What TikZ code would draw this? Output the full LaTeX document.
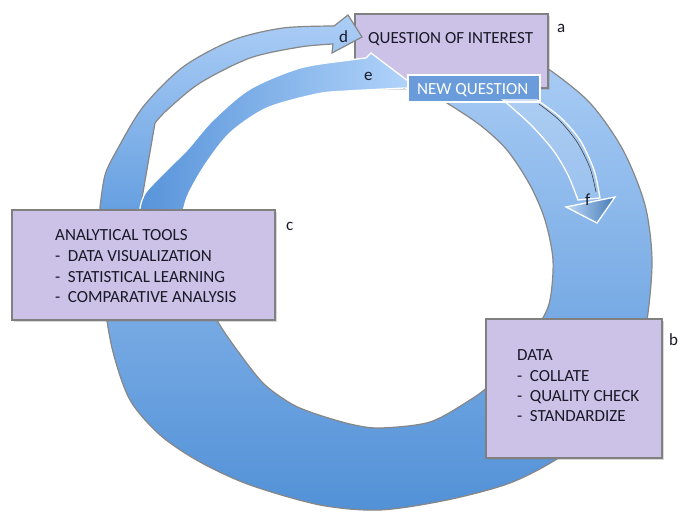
\documentclass[tikz,border=0pt]{standalone}
\usepackage{fontspec}
\setmainfont{Carlito}
\usetikzlibrary{shadows}
\definecolor{boxfill}{RGB}{204,193,230}
\definecolor{boxline}{RGB}{128,128,128}
\definecolor{ringtop}{RGB}{172,206,246}
\definecolor{ringbot}{RGB}{82,145,215}
\definecolor{dtop}{RGB}{172,206,246}
\definecolor{dbot}{RGB}{100,158,224}
\definecolor{eleft}{RGB}{88,148,218}
\definecolor{eright}{RGB}{178,212,250}
\definecolor{nqfill}{RGB}{106,155,218}
\definecolor{edgegray}{RGB}{135,135,135}
\definecolor{txt}{RGB}{25,25,40}
\begin{document}
\begin{tikzpicture}[x=1pt,y=-1pt,
  lbl/.style={font=\fontsize{17}{20}\selectfont, text=txt, inner sep=0pt, anchor=base west},
  panel/.style={draw=boxline, line width=1.8pt, fill=boxfill, inner sep=0pt,
    drop shadow={shadow xshift=1.5pt, shadow yshift=-1.5pt, opacity=0.3}},
  ringedge/.style={draw=edgegray, line width=1.2pt}]
\useasboundingbox (0,0) rectangle (686,512);
\fill[white] (0,0) rectangle (686,512);

% main circular band
\path[ringedge, top color=ringtop, bottom color=ringbot]
  plot[smooth] coordinates {(500,40) (547,68) (590,103) (623,150) (645,205) (652,260)
     (647,320) (635,370) (605,420) (560,457) (510,483) (447,500) (380,510) (320,505)
     (250,485) (200,462) (160,435) (130,400) (113,352) (104,300) (100,250) (100,216)}
  -- plot[smooth] coordinates {(182,216) (190,255) (203,292) (218,322) (237,350) (263,383)
     (290,403) (313,413) (350,424) (380,428) (430,422) (470,400) (490,385) (515,360)
     (540,323) (550,300) (553,260) (545,220) (530,185) (507,150) (480,125) (447,103) (425,90)}
  -- cycle;

% box a
\node[panel, minimum width=193pt, minimum height=74pt] (qa) at (451.5,51) {};

% arrow d
\path[ringedge, top color=dtop, bottom color=dbot]
  (100,216) -- plot[smooth] coordinates {(100,207) (105,175) (117,150) (143,107) (183,67)
     (233,40) (283,28) (334,26)}
  -- (348,15) -- (362,37) -- (332,53) -- (333,44)
  -- plot[smooth] coordinates {(333,44) (300,47) (250,58) (200,83) (167,110) (155,123)}
  -- (140,210) -- (140,216) -- cycle;

% arrow e
\path[draw=white, line width=1.3pt, left color=eleft, right color=eright]
  (140,216) -- plot[smooth] coordinates {(140,208) (146,192) (170,167) (188,149) (213,120)
     (250,89) (300,68) (350,60) (366,58)}
  -- (371,53) -- (412,84) -- (410,89)
  -- plot[smooth] coordinates {(405,88) (347,91) (317,94) (267,108) (230,133) (205,165)
     (188,195) (182,216)}
  -- cycle;

% boxes c and b
\node[panel, minimum width=263pt, minimum height=110pt] (tools) at (143.5,265) {};
\node[panel, minimum width=176pt, minimum height=139pt] (data) at (574,388.5) {};

% new question box
\node[draw=white, line width=1.6pt, fill=nqfill, inner sep=0pt,
  minimum width=132pt, minimum height=27pt] (nq) at (474,88.5) {};

% arrow f
\path[draw=white, line width=1.3pt, fill=white, fill opacity=0.12]
  plot[smooth] coordinates {(503,100) (530,124) (553,150) (568,175) (578,200)}
  -- (600,198)
  -- plot[smooth] coordinates {(600,198) (594,170) (580,140) (560,117) (537,100)}
  -- cycle;
\draw[black!75, line width=0.6pt]
  plot[smooth] coordinates {(539,104) (559,120) (577,142) (590,168) (596,192)};
\path[draw=white, line width=1.3pt, left color=ringtop!80!white, right color=ringbot!85!black]
  (566,207) -- (615,197) -- (597,223) -- cycle;

% texts
\node[lbl] (ta) at (368,43) {QUESTION OF INTEREST};
\node[lbl, text=white] (tnq) at (417,94) {NEW QUESTION};

\node[lbl] (tc1) at (55,240) {ANALYTICAL TOOLS};
\node[lbl] (tc2) at (55,261) {-\hspace{7.5pt}DATA VISUALIZATION};
\node[lbl] (tc3) at (55,282) {-\hspace{7.5pt}STATISTICAL LEARNING};
\node[lbl] (tc4) at (55,302) {-\hspace{7.5pt}COMPARATIVE ANALYSIS};

\node[lbl] (tb1) at (517,360) {DATA};
\node[lbl] (tb2) at (517,381) {-\hspace{7.5pt}COLLATE};
\node[lbl] (tb3) at (517,401) {-\hspace{7.5pt}QUALITY CHECK};
\node[lbl] (tb4) at (517,421) {-\hspace{7.5pt}STANDARDIZE};

\node[lbl] (la) at (557,32) {a};
\node[lbl] (lb) at (669,345) {b};
\node[lbl] (lc) at (286,230) {c};
\node[lbl] (ld) at (339,42) {d};
\node[lbl] (le) at (364,80) {e};
\node[lbl] (lf) at (585,205) {f};
\end{tikzpicture}
\end{document}
